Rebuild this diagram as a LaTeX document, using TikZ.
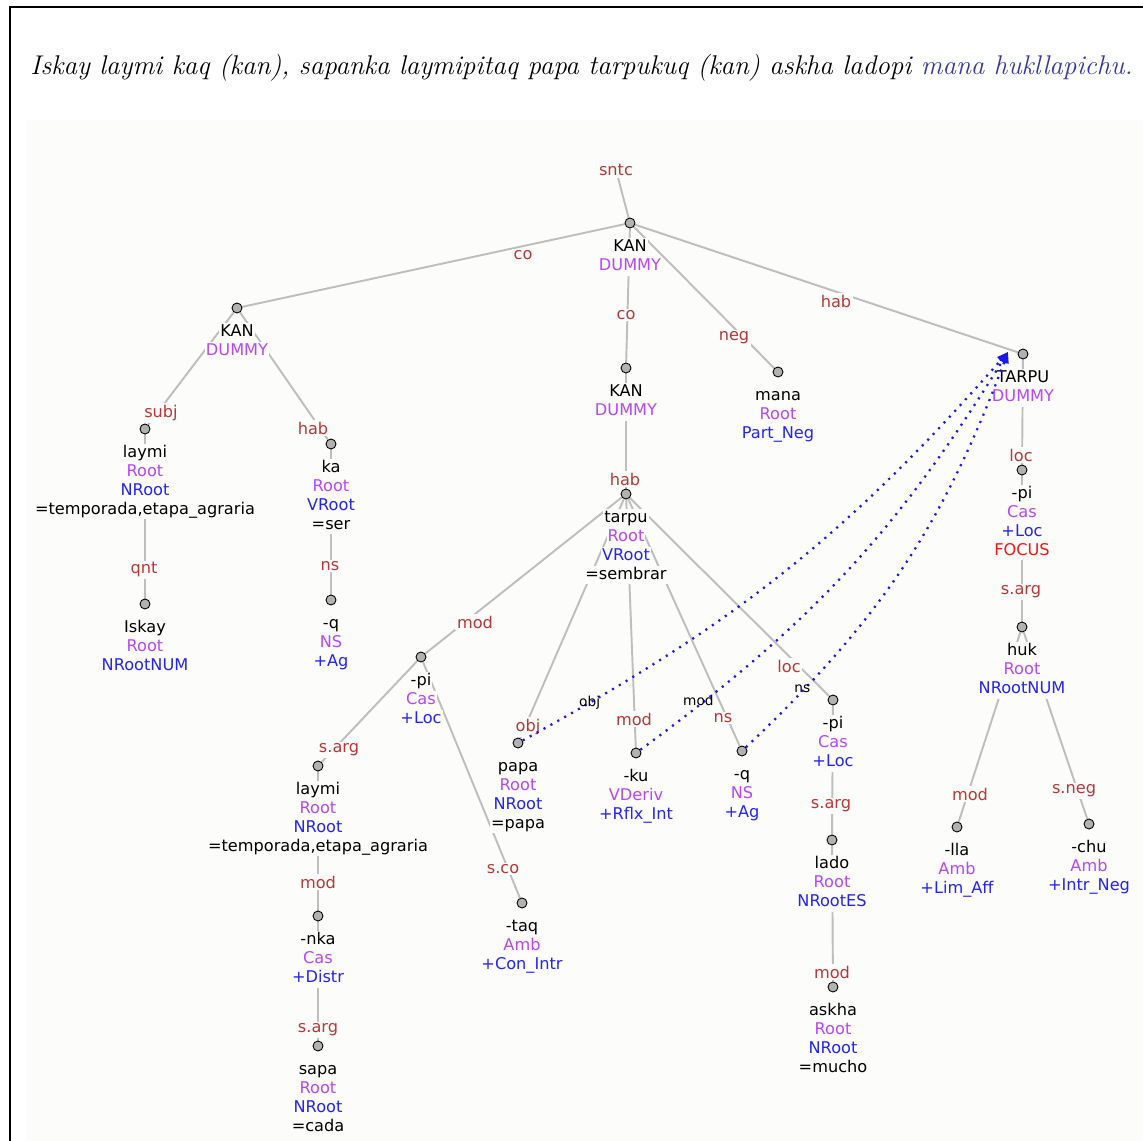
\documentclass[tikz,border=0pt]{standalone}
\usepackage{fontspec}
\setsansfont{DejaVu Sans}
\usepackage{xcolor}
\usetikzlibrary{positioning,arrows.meta}

\definecolor{bg}{RGB}{252,252,250}
\definecolor{edgec}{RGB}{190,190,190}
\definecolor{relc}{RGB}{185,55,55}
\definecolor{catc}{RGB}{185,70,250}
\definecolor{ftrc}{RGB}{35,35,250}
\definecolor{focc}{RGB}{250,20,20}
\definecolor{depc}{RGB}{25,25,235}
\definecolor{ttlblue}{RGB}{55,55,165}

\pgfdeclarelayer{back}
\pgfdeclarelayer{edges}
\pgfsetlayers{back,edges,main}

\newcommand\treefont{\sffamily\fontsize{9.2}{10.8}\selectfont}
\newcommand\deplabfont{\sffamily\fontsize{7.8}{9}\selectfont}
\setlength\fboxsep{0.6pt}
\newcommand\wl[2]{\colorbox{bg}{\textcolor{#1}{\vrule height 7pt depth 2.2pt width 0pt #2}}}
\newcommand\wrd[1]{\wl{black}{#1}}
\newcommand\catg[1]{\wl{catc}{#1}}
\newcommand\feat[1]{\wl{ftrc}{#1}}
\newcommand\focus[1]{\wl{focc}{#1}}

\tikzset{
  dot/.style={circle, draw=black, fill=gray!60, line width=0.5pt, minimum size=0.2cm, inner sep=0pt},
  lex/.style={align=center, inner sep=0pt, font=\treefont},
  rel/.style={text=relc, fill=bg, inner sep=1pt, font=\treefont},
  edge/.style={draw=edgec, line width=1.1pt},
  dep/.style={draw=depc, line width=1.3pt, dash pattern=on 1.2pt off 3.3pt, -{Triangle[length=0.22cm,width=0.18cm]}},
  deplab/.style={font=\deplabfont, inner sep=1pt},
}

\begin{document}
\begin{tikzpicture}[x=0.02cm, y=-0.02cm]
\useasboundingbox (0,0) rectangle (1143,1141);
\begin{pgfonlayer}{back}
  \fill[white] (0,0) rectangle (1143,1141);
  \fill[bg] (27,120) rectangle (1143,1141);
  \draw[line width=0.8pt] (10,1141) -- (10,7) -- (1143,7);
\end{pgfonlayer}

% sentence
\node[anchor=base west, inner sep=0pt, font=\fontsize{15.4}{18}\selectfont\itshape] (title) at (30,75)
  {Iskay laymi kaq (kan), sapanka laymipitaq papa tarpukuq (kan) askha ladopi \textcolor{ttlblue}{mana hukllapichu.}};

% dots
\node[dot] (root) at (630,223) {};
\node[dot] (kanA) at (237,308) {};
\node[dot] (laymiA) at (145,429) {};
\node[dot] (iskay) at (145,604) {};
\node[dot] (ka) at (331,444) {};
\node[dot] (qA) at (331,600) {};
\node[dot] (kanB) at (626,368) {};
\node[dot] (tarpu) at (626,494) {};
\node[dot] (piA) at (421,657) {};
\node[dot] (laymiB) at (318,766) {};
\node[dot] (nka) at (318,916) {};
\node[dot] (sapa) at (318,1046) {};
\node[dot] (taq) at (522,903) {};
\node[dot] (papa) at (518,743) {};
\node[dot] (ku) at (636,753) {};
\node[dot] (qB) at (742,751) {};
\node[dot] (piB) at (833,700) {};
\node[dot] (lado) at (832,840) {};
\node[dot] (askha) at (833,987) {};
\node[dot] (mana) at (778,372) {};
\node[dot] (tarpuU) at (1023,354) {};
\node[dot] (piC) at (1022,470) {};
\node[dot] (huk) at (1022,627) {};
\node[dot] (lla) at (957,827) {};
\node[dot] (chu) at (1089,824) {};

% words
\node[lex, below=0.19cm of root] (roott) {\wrd{KAN}\\\catg{DUMMY}};
\node[lex, below=0.19cm of kanA] (kanAt) {\wrd{KAN}\\\catg{DUMMY}};
\node[lex, below=0.19cm of laymiA] (laymiAt) {\wrd{laymi}\\\catg{Root}\\\feat{NRoot}\\\wrd{=temporada,etapa\_agraria}};
\node[lex, below=0.19cm of iskay] (iskayt) {\wrd{Iskay}\\\catg{Root}\\\feat{NRootNUM}};
\node[lex, below=0.19cm of ka] (kat) {\wrd{ka}\\\catg{Root}\\\feat{VRoot}\\\wrd{=ser}};
\node[lex, below=0.19cm of qA] (qAt) {\wrd{-q}\\\catg{NS}\\\feat{+Ag}};
\node[lex, below=0.19cm of kanB] (kanBt) {\wrd{KAN}\\\catg{DUMMY}};
\node[lex, below=0.19cm of tarpu] (tarput) {\wrd{tarpu}\\\catg{Root}\\\feat{VRoot}\\\wrd{=sembrar}};
\node[lex, below=0.19cm of piA] (piAt) {\wrd{-pi}\\\catg{Cas}\\\feat{+Loc}};
\node[lex, below=0.19cm of laymiB] (laymiBt) {\wrd{laymi}\\\catg{Root}\\\feat{NRoot}\\\wrd{=temporada,etapa\_agraria}};
\node[lex, below=0.19cm of nka] (nkat) {\wrd{-nka}\\\catg{Cas}\\\feat{+Distr}};
\node[lex, below=0.19cm of sapa] (sapat) {\wrd{sapa}\\\catg{Root}\\\feat{NRoot}\\\wrd{=cada}};
\node[lex, below=0.19cm of taq] (taqt) {\wrd{-taq}\\\catg{Amb}\\\feat{+Con\_Intr}};
\node[lex, below=0.19cm of papa] (papat) {\wrd{papa}\\\catg{Root}\\\feat{NRoot}\\\wrd{=papa}};
\node[lex, below=0.19cm of ku] (kut) {\wrd{-ku}\\\catg{VDeriv}\\\feat{+Rflx\_Int}};
\node[lex, below=0.19cm of qB] (qBt) {\wrd{-q}\\\catg{NS}\\\feat{+Ag}};
\node[lex, below=0.19cm of piB] (piBt) {\wrd{-pi}\\\catg{Cas}\\\feat{+Loc}};
\node[lex, below=0.19cm of lado] (ladot) {\wrd{lado}\\\catg{Root}\\\feat{NRootES}};
\node[lex, below=0.19cm of askha] (askhat) {\wrd{askha}\\\catg{Root}\\\feat{NRoot}\\\wrd{=mucho}};
\node[lex, below=0.19cm of mana] (manat) {\wrd{mana}\\\catg{Root}\\\feat{Part\_Neg}};
\node[lex, below=0.19cm of tarpuU] (tarpuUt) {\wrd{TARPU}\\\catg{DUMMY}};
\node[lex, below=0.19cm of piC] (piCt) {\wrd{-pi}\\\catg{Cas}\\\feat{+Loc}\\\focus{FOCUS}};
\node[lex, below=0.19cm of huk] (hukt) {\wrd{huk}\\\catg{Root}\\\feat{NRootNUM}};
\node[lex, below=0.19cm of lla] (llat) {\wrd{-lla}\\\catg{Amb}\\\feat{+Lim\_Aff}};
\node[lex, below=0.19cm of chu] (chut) {\wrd{-chu}\\\catg{Amb}\\\feat{+Intr\_Neg}};

% relations
\node[rel] (sntc) at (616,170) {sntc};
\node[rel] (r1) at (523,255) {co};
\node[rel] (r2) at (626,315) {co};
\node[rel] (r3) at (734,338) {neg};
\node[rel] (r4) at (836,301) {hab};
\node[rel] (r5) at (161,413) {subj};
\node[rel] (r6) at (313,428) {hab};
\node[rel] (r7) at (144,570) {qnt};
\node[rel] (r8) at (330,566) {ns};
\node[rel] (r9) at (625,479) {hab};
\node[rel] (r10) at (475,622) {mod};
\node[rel] (r11) at (528,727) {obj};
\node[rel] (r12) at (634,719) {mod};
\node[rel] (r13) at (723,718) {ns};
\node[rel] (r14) at (789,666) {loc};
\node[rel] (r15) at (339,750) {s.arg};
\node[rel] (r16) at (503,869) {s.co};
\node[rel] (r17) at (318,882) {mod};
\node[rel] (r18) at (318,1030) {s.arg};
\node[rel] (r19) at (831,806) {s.arg};
\node[rel] (r20) at (832,972) {mod};
\node[rel] (r21) at (1021,455) {loc};
\node[rel] (r22) at (1021,592) {s.arg};
\node[rel] (r23) at (970,794) {mod};
\node[rel] (r24) at (1074,791) {s.neg};

\begin{pgfonlayer}{edges}
  \draw[edge] (sntc) -- (root);
  \draw[edge] (root) -- (kanA);
  \draw[edge] (root) -- (kanB);
  \draw[edge] (root) -- (mana);
  \draw[edge] (root) -- (tarpuU);
  \draw[edge] (kanA) -- (laymiA);
  \draw[edge] (kanA) -- (ka);
  \draw[edge] (laymiA) -- (iskay);
  \draw[edge] (ka) -- (qA);
  \draw[edge] (kanB) -- (tarpu);
  \draw[edge] (tarpu) -- (piA);
  \draw[edge] (tarpu) -- (papa);
  \draw[edge] (tarpu) -- (ku);
  \draw[edge] (tarpu) -- (qB);
  \draw[edge] (tarpu) -- (piB);
  \draw[edge] (piA) -- (laymiB);
  \draw[edge] (piA) -- (taq);
  \draw[edge] (laymiB) -- (nka);
  \draw[edge] (nka) -- (sapa);
  \draw[edge] (piB) -- (lado);
  \draw[edge] (lado) -- (askha);
  \draw[edge] (tarpuU) -- (piC);
  \draw[edge] (piC) -- (huk);
  \draw[edge] (huk) -- (lla);
  \draw[edge] (huk) -- (chu);
\end{pgfonlayer}

% coreference arrows
\coordinate (tgt) at (1008,352);
\draw[dep] (papa) to[bend right=10] node[deplab, pos=0.11] (d1) {obj} (tgt);
\draw[dep] (ku) to[bend right=11] node[deplab, pos=0.12, yshift=0.1cm] (d2) {mod} (tgt);
\draw[dep] (qB) to[bend right=13] node[deplab, pos=0.14, anchor=south, xshift=0.08cm] (d3) {ns} (tgt);
\end{tikzpicture}
\end{document}
